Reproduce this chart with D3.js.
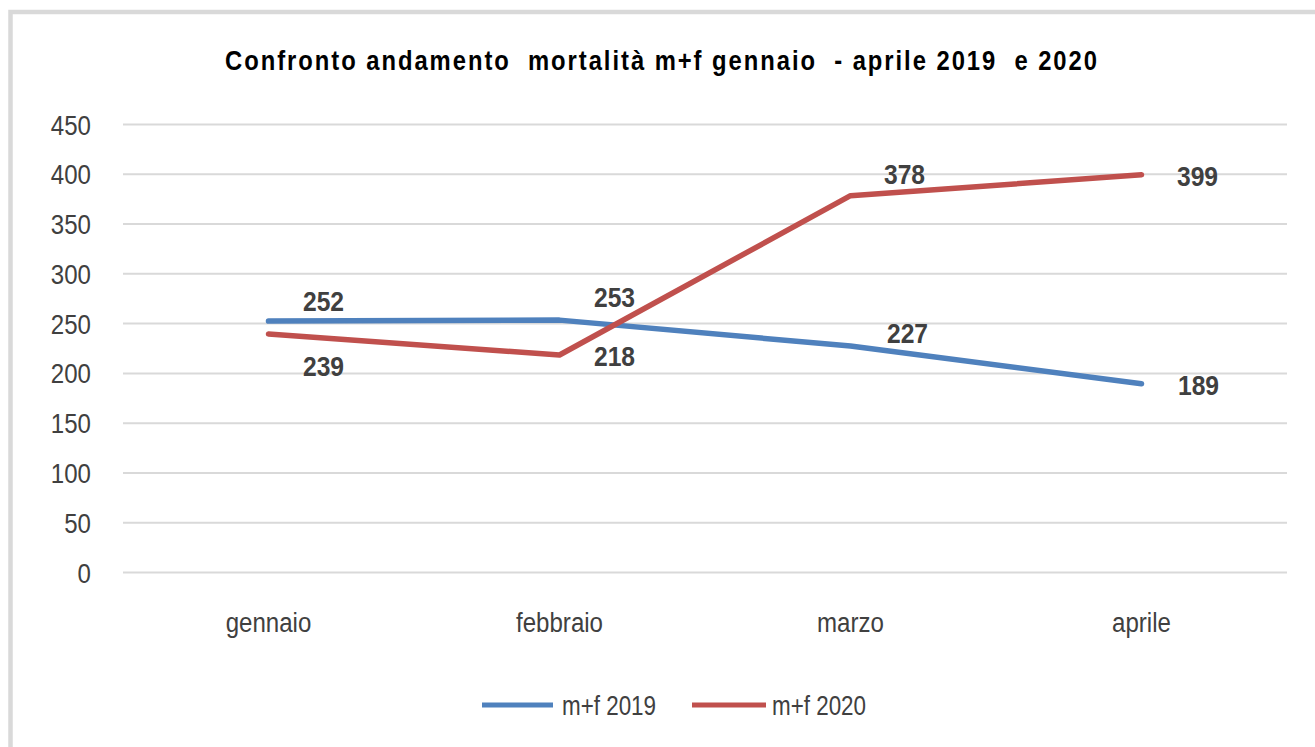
<!DOCTYPE html>
<html>
<head>
<meta charset="utf-8">
<script src="https://cdn.jsdelivr.net/npm/d3@7"></script>
<style>
  html, body { margin: 0; padding: 0; background: #fff; }
  svg { display: block; }
  text { font-family: "Liberation Sans", Arial, sans-serif; }
</style>
</head>
<body>
<script>
// ---- data ----
const title = "Confronto andamento  mortalità m+f gennaio  - aprile 2019  e 2020";
const categories = ["gennaio", "febbraio", "marzo", "aprile"];
const seriesNames = ["m+f 2019", "m+f 2020"];
const values2019 = [252, 253, 227, 189];
const values2020 = [239, 218, 378, 399];
const yTicks = [0, 50, 100, 150, 200, 250, 300, 350, 400, 450];

// ---- style / label placement (not data) ----
const colors = ["#4f81bd", "#c0504d"];
const labelOffsets2019 = [[55, -10], [55, -13], [57, -3], [57, 11]];
const labelOffsets2020 = [[55, 42], [55, 11], [54, -12], [56, 11]];

const W = 1315, H = 747;
const svg = d3.select("body").append("svg").attr("width", W).attr("height", H);

// horizontally condense text (reference uses a narrow-looking face)
function condense(sel, k) {
  sel.each(function () {
    const t = d3.select(this);
    const xv = +(t.attr("x") || 0);
    t.attr("x", xv / k).attr("transform", `scale(${k},1)`);
  });
}

// chart border (only top & left visible in frame)
svg.append("rect")
  .attr("x", 10.5).attr("y", 12).attr("width", W + 20).attr("height", H + 20)
  .attr("fill", "#fff").attr("stroke", "#d9d9d9").attr("stroke-width", 4.5);

const plotLeft = 123, plotRight = 1287;
const x = d3.scaleBand().domain(categories).range([plotLeft, plotRight]);
const y = d3.scaleLinear().domain([0, 450]).range([572, 124]);

// gridlines + y tick labels
const yAxis = d3.axisLeft(y).tickValues(yTicks).tickSize(-(plotRight - plotLeft)).tickPadding(32);
const gy = svg.append("g").attr("transform", `translate(${plotLeft},0)`).call(yAxis);
gy.select(".domain").remove();
gy.selectAll(".tick line").attr("stroke", "#d9d9d9").attr("stroke-width", 2);
gy.selectAll(".tick text")
  .attr("fill", "#404040").attr("font-size", 28).attr("dy", "0.36em");
condense(gy.selectAll(".tick text"), 0.86);

// x axis labels
const xAxis = d3.axisBottom(x).tickSize(0).tickPadding(0);
const gx = svg.append("g").attr("transform", `translate(0,572)`).call(xAxis);
gx.select(".domain").remove();
gx.selectAll(".tick text")
  .attr("fill", "#404040").attr("font-size", 28).attr("y", 60).attr("dy", 0);
condense(gx.selectAll(".tick text"), 0.86);

// title
const k = 0.85;
svg.append("text")
  .attr("x", 661 / k).attr("y", 70)
  .attr("transform", `scale(${k},1)`)
  .attr("text-anchor", "middle")
  .attr("font-size", 28).attr("font-weight", "bold").attr("fill", "#000")
  .attr("textLength", 872 / k).attr("lengthAdjust", "spacing")
  .style("white-space", "pre")
  .text(title);

const series = [values2019, values2020];
const offsets = [labelOffsets2019, labelOffsets2020];
const cx = c => x(c) + x.bandwidth() / 2;

const line = d3.line().x((d, i) => cx(categories[i])).y(d => y(d));

series.forEach((vals, si) => {
  svg.append("path")
    .datum(vals)
    .attr("d", line)
    .attr("fill", "none")
    .attr("stroke", colors[si])
    .attr("stroke-width", 5.5)
    .attr("stroke-linecap", "round")
    .attr("stroke-linejoin", "round");
});

series.forEach((vals, si) => {
  const labels = svg.append("g").selectAll("text")
    .data(vals)
    .join("text")
    .attr("x", (d, i) => cx(categories[i]) + offsets[si][i][0])
    .attr("y", (d, i) => y(d) + offsets[si][i][1])
    .attr("text-anchor", "middle")
    .attr("font-size", 28).attr("font-weight", "bold").attr("fill", "#404040")
    .text(d => d);
  condense(labels, 0.88);
});

// legend
const legendItems = [
  { name: seriesNames[0], color: colors[0], x1: 482, x2: 553, tx: 562 },
  { name: seriesNames[1], color: colors[1], x1: 692, x2: 766, tx: 772 }
];
const lg = svg.append("g");
legendItems.forEach(it => {
  lg.append("line").attr("x1", it.x1).attr("x2", it.x2).attr("y1", 705).attr("y2", 705)
    .attr("stroke", it.color).attr("stroke-width", 5);
  const t = lg.append("text").attr("x", it.tx).attr("y", 715)
    .attr("font-size", 27).attr("fill", "#404040").text(it.name);
  condense(t, 0.83);
});
</script>
</body>
</html>
